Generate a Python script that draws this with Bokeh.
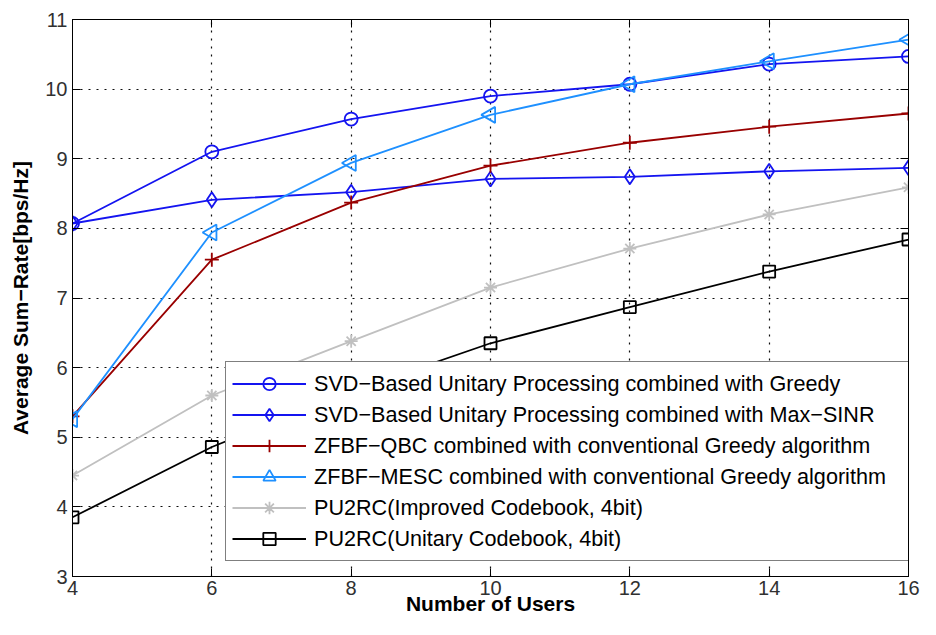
from bokeh.plotting import figure
from bokeh.models import LinearAxis, Legend, LegendItem, FixedTicker
from bokeh.embed import file_html
from bokeh.resources import INLINE
import numpy as np

# ---------------- data ----------------
users = [4, 6, 8, 10, 12, 14, 16]
svd_greedy = [8.07, 9.10, 9.57, 9.90, 10.07, 10.36, 10.47]
svd_maxsinr = [8.07, 8.41, 8.52, 8.71, 8.74, 8.82, 8.87]
zfbf_qbc = [5.30, 7.55, 8.37, 8.90, 9.23, 9.46, 9.65]
zfbf_mesc = [5.26, 7.94, 8.94, 9.63, 10.07, 10.40, 10.71]
pu2rc_improved = [4.45, 5.60, 6.38, 7.15, 7.71, 8.20, 8.59]
pu2rc_unitary = [3.85, 4.86, 5.66, 6.35, 6.87, 7.38, 7.84]

series_labels = [
    "SVD\u2212Based Unitary Processing combined with Greedy",
    "SVD\u2212Based Unitary Processing combined with Max\u2212SINR",
    "ZFBF\u2212QBC combined with conventional Greedy algorithm",
    "ZFBF\u2212MESC combined with conventional Greedy algorithm",
    "PU2RC(Improved Codebook, 4bit)",
    "PU2RC(Unitary Codebook, 4bit)",
]
x_ticks = [4, 6, 8, 10, 12, 14, 16]
y_ticks = [3, 4, 5, 6, 7, 8, 9, 10, 11]
x_label = "Number of Users"
y_label = "Average Sum\u2212Rate[bps/Hz]"

FONT = "Liberation Sans"

p = figure(width=920, height=619, x_range=(4, 16), y_range=(3, 11),
           output_backend="svg", toolbar_location=None,
           min_border_left=72, min_border_right=12,
           min_border_top=19, min_border_bottom=43)
p.outline_line_color = "black"
p.outline_line_width = 1
p.background_fill_color = "white"
p.border_fill_color = "white"

for ax, ticks in ((p.xaxis[0], x_ticks), (p.yaxis[0], y_ticks)):
    ax.ticker = FixedTicker(ticks=ticks)
    ax.major_tick_in = 8
    ax.major_tick_out = 0
    ax.minor_tick_in = 0
    ax.minor_tick_out = 0
    ax.axis_line_color = "black"
    ax.major_tick_line_color = "black"
    ax.major_label_text_font = FONT
    ax.major_label_text_font_size = "20px"
    ax.major_label_text_color = "#303030"
    ax.axis_label_text_font = FONT
    ax.axis_label_text_font_style = "bold"
    ax.axis_label_text_font_size = "21px"
    ax.axis_label_text_color = "black"

p.xaxis[0].major_label_standoff = 4
p.xaxis[0].axis_label = x_label
p.xaxis[0].axis_label_standoff = -6

p.yaxis[0].major_label_standoff = 5
p.yaxis[0].axis_label = y_label
p.yaxis[0].axis_label_standoff = 10

for place, ticks in (("above", x_ticks), ("right", y_ticks)):
    ax = LinearAxis(ticker=FixedTicker(ticks=ticks),
                    major_label_text_font_size="1px",
                    major_label_text_color=None,
                    major_label_standoff=0,
                    major_tick_in=8, major_tick_out=0,
                    minor_tick_in=0, minor_tick_out=0,
                    axis_line_color="black",
                    major_tick_line_color="black")
    p.add_layout(ax, place)

p.xgrid.ticker = FixedTicker(ticks=x_ticks)
p.ygrid.ticker = FixedTicker(ticks=y_ticks)
for g in (p.xgrid[0], p.ygrid[0]):
    g.grid_line_color = "black"
    g.grid_line_alpha = 0.95
    g.grid_line_dash = "2 6"
    g.grid_line_width = 1.2

specs = [
    (svd_greedy, "#1414F0", "circle", 13, 0.0),
    (svd_maxsinr, "#1414F0", "diamond", 15, 0.0),
    (zfbf_qbc, "#990000", "cross", 14, 0.0),
    (zfbf_mesc, "#1E90FF", "triangle", 16, np.pi / 2),
    (pu2rc_improved, "#C0C0C0", "asterisk", 13, 0.0),
    (pu2rc_unitary, "#000000", "square", 12, 0.0),
]

items = []
for (vals, color, marker, size, ang), lab in zip(specs, series_labels):
    rl = p.line(users, vals, line_color=color, line_width=1.8)
    rm = p.scatter(users, vals, marker=marker, size=size, angle=ang,
                   angle_units="rad",
                   line_color=color, fill_color=None, line_width=1.8)
    items.append(LegendItem(label=lab, renderers=[rl, rm]))

legend = Legend(items=items, location=(153, 15), margin=0,
                border_line_color="black", border_line_width=1,
                background_fill_color="white", background_fill_alpha=1.0,
                label_text_font=FONT, label_text_font_size="21.6px",
                label_text_color="black",
                glyph_width=74, glyph_height=31, label_height=31,
                spacing=0, padding=6, label_standoff=8, label_width=593)
p.add_layout(legend)

open("out.html", "w").write(file_html(p, INLINE))
